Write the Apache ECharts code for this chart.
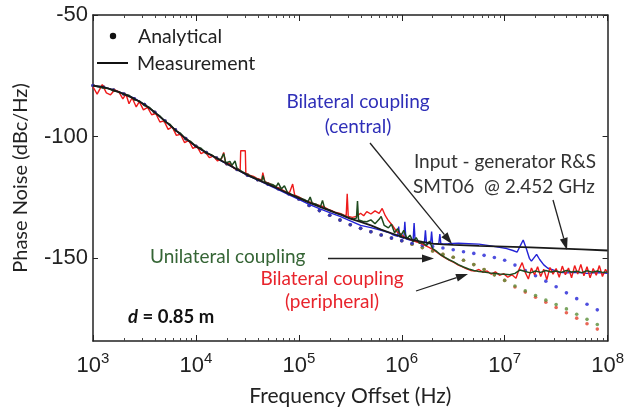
<!DOCTYPE html>
<html><head><meta charset="utf-8">
<script src="https://cdn.jsdelivr.net/npm/echarts@6/dist/echarts.min.js"></script>
<style>html,body{margin:0;padding:0;background:#fff}#c{width:627px;height:412px}</style>
</head><body><div id="c"></div>
<script>
// ---- axis ticks ----
const xTickExps = [3, 4, 5, 6, 7, 8];
const yTicks = [-150, -100, -50];

// ---- analytical (dots): log10(frequency) and phase noise ----
const dotLogF = [3.0,3.1,3.2,3.3,3.4,3.5,3.6,3.7,3.8,3.9,4.0,4.1,4.2,4.3,4.4,4.5,4.6,4.7,4.8,4.9,
  5.0,5.1,5.2,5.3,5.4,5.5,5.6,5.7,5.8,5.9,6.0,6.1,6.2,6.3,6.4,6.5,6.6,6.7,6.8,6.9,
  7.0,7.1,7.2,7.3,7.4,7.5,7.6,7.7,7.8,7.9];
const anaCentral = [-79.0,-79.6,-80.9,-82.5,-84.4,-86.8,-90.0,-93.6,-97.2,-100.8,-104.0,-106.5,-108.8,-111.1,-113.5,-115.8,-117.7,-119.5,-121.4,-123.5,
  -125.6,-128.3,-130.4,-132.3,-134.3,-136.2,-137.7,-139.1,-140.4,-141.7,-142.8,-143.8,-144.6,-145.2,-145.8,-146.5,-147.3,-148.0,-148.8,-149.7,
  -150.8,-152.8,-155.0,-157.2,-159.4,-161.7,-164.2,-166.6,-168.9,-171.2];
const anaUnilateral = [-79.0,-79.6,-80.9,-82.5,-84.4,-86.8,-90.0,-93.6,-97.2,-100.8,-104.0,-106.5,-108.8,-111.1,-113.5,-115.8,-117.7,-119.5,-121.4,-123.5,
  -125.6,-128.3,-130.4,-132.3,-134.3,-136.2,-137.7,-139.1,-140.4,-141.7,-142.8,-144.2,-145.6,-147.0,-148.4,-149.6,-150.8,-152.6,-154.6,-156.8,
  -159.1,-161.4,-163.4,-165.3,-167.2,-169.0,-170.8,-173.0,-175.1,-177.2];
const anaPeripheral = [-79.0,-79.6,-80.9,-82.5,-84.4,-86.8,-90.0,-93.6,-97.2,-100.8,-104.0,-106.5,-108.8,-111.1,-113.5,-115.8,-117.7,-119.5,-121.4,-123.5,
  -125.6,-128.3,-130.4,-132.3,-134.3,-136.2,-137.7,-139.1,-140.4,-141.7,-142.8,-144.2,-145.6,-147.0,-148.4,-149.6,-150.8,-152.6,-154.6,-156.8,
  -159.1,-161.8,-163.9,-166.0,-168.1,-170.2,-172.4,-174.6,-176.9,-179.1];

// ---- measurements: [log10(frequency), phase noise] ----
const measInput = [[3.00,-79.0],[3.10,-79.6],[3.20,-80.9],[3.30,-82.5],[3.40,-84.4],[3.50,-86.8],[3.60,-90.0],[3.70,-93.6],
  [3.80,-97.2],[3.90,-100.8],[4.00,-104.0],[4.10,-106.5],[4.20,-108.8],[4.30,-111.1],[4.40,-113.5],[4.50,-115.8],
  [4.60,-117.7],[4.70,-119.5],[4.80,-121.4],[4.90,-123.4],[5.00,-125.3],[5.10,-127.1],[5.20,-128.8],[5.30,-130.4],
  [5.40,-132.0],[5.50,-133.7],[5.60,-135.0],[5.70,-136.5],[5.80,-138.2],[5.90,-139.7],[6.00,-141.2],[6.10,-142.4],
  [6.20,-143.3],[6.30,-144.0],[6.40,-144.3],[6.50,-144.5],[6.75,-144.9],[7.00,-145.2],[7.25,-145.5],[7.50,-145.9],
  [7.75,-146.3],[8.00,-146.8]];
const measCentral = [[3.00,-79.2],[3.10,-79.6],[3.20,-80.8],[3.30,-82.3],[3.40,-84.2],[3.50,-86.8],[3.60,-90.0],[3.70,-93.6],
  [3.80,-97.3],[3.90,-100.9],[4.00,-104.0],[4.10,-106.6],[4.20,-108.9],[4.30,-111.2],[4.40,-113.6],[4.50,-115.9],
  [4.60,-117.8],[4.70,-119.8],[4.80,-121.8],[4.90,-123.8],[5.00,-125.8],[5.10,-127.8],[5.20,-129.6],[5.30,-131.2],
  [5.40,-132.8],[5.50,-134.6],[5.60,-136.5],[5.70,-137.4],[5.80,-138.5],[5.88,-139.5],[5.92,-140.5],[5.96,-141.0],
  [5.97,-137.0],[5.98,-141.2],[6.02,-141.8],[6.03,-135.0],[6.04,-142.0],[6.08,-142.5],[6.11,-142.8],[6.12,-135.5],
  [6.13,-143.0],[6.18,-143.3],[6.22,-143.6],[6.23,-138.5],[6.24,-143.8],[6.28,-144.0],[6.29,-139.0],[6.30,-144.0],
  [6.36,-144.0],[6.37,-140.0],[6.38,-144.1],[6.45,-144.0],[6.55,-143.8],[6.65,-144.0],[6.75,-144.2],[6.85,-144.8],
  [6.95,-145.5],[7.02,-146.0],[7.08,-146.8],[7.12,-147.5],[7.15,-145.0],[7.18,-142.5],[7.21,-146.0],[7.24,-150.0],
  [7.26,-151.2],[7.29,-149.5],[7.31,-148.4],[7.34,-150.5],[7.38,-152.7],[7.42,-154.1],[7.47,-154.8],[7.53,-155.8],
  [7.60,-156.0],[7.70,-155.8],[7.80,-156.2],[7.90,-155.9],[8.00,-156.2]];
const measUnilateral = [[3.00,-79.0],[3.05,-79.5],[3.10,-80.0],[3.15,-80.2],[3.20,-81.2],[3.25,-81.5],[3.30,-82.6],[3.35,-83.0],
  [3.40,-84.8],[3.45,-85.3],[3.50,-87.2],[3.55,-88.0],[3.60,-90.2],[3.65,-91.5],[3.70,-93.8],[3.75,-95.0],[3.80,-97.5],
  [3.85,-98.6],[3.90,-101.0],[3.95,-102.0],[4.00,-104.0],[4.05,-104.8],[4.10,-106.8],[4.15,-107.4],[4.20,-109.0],
  [4.24,-109.5],[4.27,-107.0],[4.29,-110.8],[4.33,-110.2],[4.35,-111.8],[4.38,-110.0],[4.40,-113.2],[4.45,-114.4],
  [4.50,-115.5],[4.55,-116.6],[4.60,-117.5],[4.64,-118.2],[4.65,-116.0],[4.67,-118.6],[4.71,-119.3],[4.75,-119.8],
  [4.78,-120.6],[4.80,-119.0],[4.83,-121.5],[4.86,-120.2],[4.89,-123.0],[4.93,-123.8],[4.97,-124.5],[5.01,-125.2],
  [5.05,-125.8],[5.09,-126.7],[5.11,-124.8],[5.13,-127.4],[5.17,-127.8],[5.21,-128.8],[5.23,-126.2],[5.25,-129.4],
  [5.29,-130.0],[5.33,-130.8],[5.37,-131.5],[5.41,-131.9],[5.45,-132.7],[5.49,-133.4],[5.53,-133.8],[5.56,-133.5],
  [5.57,-126.5],[5.58,-134.3],[5.62,-134.8],[5.66,-135.0],[5.70,-134.2],[5.74,-135.8],[5.78,-134.0],[5.80,-132.8],
  [5.83,-136.5],[5.87,-137.5],[5.90,-136.0],[5.93,-139.5],[5.96,-137.8],[5.99,-140.8],[6.02,-138.5],[6.05,-142.0],
  [6.08,-140.5],[6.11,-143.2],[6.14,-141.5],[6.17,-143.8],[6.20,-143.5],[6.24,-144.8],[6.27,-143.0],[6.30,-146.0],
  [6.34,-147.2],[6.38,-148.6],[6.42,-149.6],[6.46,-150.6],[6.50,-151.4],[6.55,-152.6],[6.60,-153.6],[6.65,-154.4],
  [6.70,-155.0],[6.75,-155.4],[6.80,-155.6],[6.85,-156.0],[6.90,-156.2],[6.95,-156.5],[7.00,-156.6],[7.05,-156.8],
  [7.10,-156.2],[7.15,-154.8],[7.20,-155.4],[7.25,-156.0],[7.30,-155.2],[7.35,-155.8],[7.40,-155.0],[7.45,-155.6],
  [7.50,-155.2],[7.55,-155.8],[7.60,-155.0],[7.65,-155.6],[7.70,-155.3],[7.75,-155.9],[7.80,-155.1],[7.85,-155.7],
  [7.90,-155.2],[7.95,-155.8],[8.00,-155.6]];
const measPeripheral = [[3.00,-79.5],[3.04,-82.5],[3.09,-78.6],[3.13,-82.0],[3.17,-82.8],[3.21,-80.8],[3.25,-81.5],[3.29,-84.5],
  [3.32,-82.5],[3.35,-86.5],[3.38,-84.0],[3.42,-87.8],[3.45,-85.6],[3.49,-89.0],[3.53,-88.0],[3.57,-91.0],[3.61,-90.5],
  [3.65,-94.0],[3.69,-93.5],[3.73,-97.0],[3.77,-96.0],[3.81,-99.5],[3.85,-99.0],[3.89,-102.5],[3.93,-101.5],[3.97,-104.8],
  [4.01,-104.0],[4.05,-107.0],[4.09,-106.2],[4.13,-108.6],[4.17,-108.0],[4.21,-110.0],[4.25,-109.0],[4.27,-106.5],
  [4.29,-111.2],[4.33,-111.0],[4.37,-113.0],[4.41,-113.5],[4.43,-113.8],[4.435,-105.8],[4.48,-105.8],[4.485,-115.0],
  [4.52,-115.8],[4.56,-116.3],[4.60,-117.3],[4.64,-117.8],[4.65,-114.8],[4.67,-118.5],[4.71,-119.2],[4.75,-120.0],
  [4.79,-120.9],[4.83,-121.7],[4.87,-122.6],[4.91,-123.0],[4.94,-119.5],[4.96,-124.0],[5.00,-124.8],[5.04,-125.8],
  [5.08,-126.5],[5.12,-127.0],[5.16,-127.8],[5.20,-128.3],[5.24,-128.8],[5.28,-129.8],[5.32,-130.4],[5.36,-131.2],
  [5.40,-131.6],[5.44,-132.3],[5.46,-132.5],[5.47,-123.5],[5.48,-132.8],[5.52,-133.2],[5.56,-132.8],[5.60,-131.5],
  [5.63,-132.5],[5.66,-130.8],[5.70,-131.8],[5.74,-130.5],[5.78,-131.5],[5.81,-129.5],[5.84,-132.5],[5.87,-134.5],
  [5.91,-136.5],[5.95,-139.0],[5.99,-140.0],[6.03,-141.5],[6.07,-142.0],[6.11,-142.8],[6.15,-143.3],[6.19,-144.0],
  [6.23,-144.8],[6.27,-145.6],[6.31,-146.6],[6.35,-147.8],[6.39,-149.0],[6.43,-150.0],[6.47,-151.0],[6.51,-151.8],
  [6.55,-152.8],[6.59,-153.5],[6.63,-154.3],[6.67,-155.0],[6.71,-155.3],[6.75,-154.6],[6.79,-155.8],[6.83,-155.2],
  [6.87,-156.5],[6.91,-155.6],[6.95,-157.0],[6.99,-156.3],[7.03,-157.8],[7.07,-156.8],[7.11,-158.2],[7.14,-154.5],
  [7.17,-151.8],[7.20,-155.8],[7.23,-158.5],[7.26,-154.0],[7.29,-156.8],[7.32,-153.5],[7.35,-157.5],[7.38,-154.5],
  [7.41,-158.8],[7.44,-153.8],[7.47,-156.5],[7.50,-154.2],[7.53,-157.8],[7.56,-153.2],[7.59,-156.8],[7.62,-154.0],
  [7.65,-158.0],[7.68,-153.0],[7.71,-156.5],[7.74,-152.5],[7.77,-157.2],[7.80,-153.5],[7.83,-158.0],[7.86,-154.2],
  [7.89,-157.0],[7.92,-153.0],[7.95,-157.5],[7.98,-154.5],[8.00,-156.0]];

// ---- build ----
const hz = L => Math.pow(10, L);
const dots = vals => dotLogF.map((L, i) => [hz(L), vals[i]]);
const pts = arr => arr.map(p => [hz(p[0]), p[1]]);
const majorX = xTickExps.map(hz);
const minorX = [];
xTickExps.slice(0, -1).forEach(e => { for (let k = 2; k <= 9; k++) minorX.push(k * hz(e)); });

const C = {
  blue: '#2323d6', red: '#ee1b1b', green: '#1e4a1e',
  greenDot: '#5a8f3a', redDot: '#e2402c', black: '#1a1a1a'
};
const TXT = 'Lato, "Open Sans", sans-serif';
const NUM = '"Liberation Sans", Arial, sans-serif';

const chart = echarts.init(document.getElementById('c'), null, { renderer: 'canvas' });

const baseX = {
  type: 'log', logBase: 10, min: 1e3, max: 1e8, gridIndex: 0,
  splitLine: { show: false }, minorTick: { show: false }, minorSplitLine: { show: false }
};
const option = {
  animation: false,
  backgroundColor: '#fff',
  grid: { left: 93, right: 18, top: 15, bottom: 69, containLabel: false },
  xAxis: [
    Object.assign({}, baseX, {
      position: 'bottom',
      name: 'Frequency Offset (Hz)', nameLocation: 'middle', nameGap: 45,
      nameTextStyle: { fontFamily: TXT, fontSize: 21, color: '#222' },
      axisLine: { show: true, lineStyle: { color: '#222', width: 1.5 } },
      axisTick: { show: true, inside: true, length: 6, customValues: majorX, lineStyle: { color: '#222', width: 1 } },
      axisLabel: {
        show: true, customValues: majorX, margin: 10,
        formatter: v => '{b|10}{s|' + Math.round(Math.log10(v)) + '}',
        rich: {
          b: { fontFamily: NUM, fontSize: 22, color: '#222', verticalAlign: 'bottom', lineHeight: 26 },
          s: { fontFamily: NUM, fontSize: 15, color: '#222', verticalAlign: 'top', lineHeight: 26, padding: [0, 0, 10, 0] }
        }
      }
    }),
    Object.assign({}, baseX, {
      position: 'bottom',
      axisLine: { show: false }, axisLabel: { show: false },
      axisTick: { show: true, inside: true, length: 3, customValues: minorX, lineStyle: { color: '#444', width: 1 } }
    }),
    Object.assign({}, baseX, {
      position: 'top',
      axisLine: { show: true, lineStyle: { color: '#222', width: 1.5 } }, axisLabel: { show: false },
      axisTick: { show: true, inside: true, length: 6, customValues: majorX, lineStyle: { color: '#222', width: 1 } }
    }),
    Object.assign({}, baseX, {
      position: 'top',
      axisLine: { show: false }, axisLabel: { show: false },
      axisTick: { show: true, inside: true, length: 3, customValues: minorX, lineStyle: { color: '#444', width: 1 } }
    })
  ],
  yAxis: [
    {
      type: 'value', min: -184, max: -50, position: 'left',
      name: 'Phase Noise (dBc/Hz)', nameLocation: 'middle', nameGap: 62,
      nameTextStyle: { fontFamily: TXT, fontSize: 20, color: '#222' },
      splitLine: { show: false },
      axisLine: { show: true, lineStyle: { color: '#222', width: 1.5 } },
      axisTick: { show: true, inside: true, length: 5, customValues: yTicks, lineStyle: { color: '#222' } },
      axisLabel: { show: true, customValues: yTicks, margin: 5, fontFamily: NUM, fontSize: 22, color: '#222' }
    },
    {
      type: 'value', min: -184, max: -50, position: 'right',
      splitLine: { show: false },
      axisLine: { show: true, lineStyle: { color: '#222', width: 1.5 } },
      axisTick: { show: true, inside: true, length: 5, customValues: yTicks, lineStyle: { color: '#222' } },
      axisLabel: { show: false }
    }
  ],
  series: [
    { name: 'Analytical peripheral', type: 'scatter', data: dots(anaPeripheral), symbolSize: 3.6, itemStyle: { color: C.redDot }, z: 1 },
    { name: 'Analytical unilateral', type: 'scatter', data: dots(anaUnilateral), symbolSize: 3.6, itemStyle: { color: C.greenDot }, z: 1 },
    { name: 'Analytical central', type: 'scatter', data: dots(anaCentral), symbolSize: 3.6, itemStyle: { color: C.blue }, z: 1 },
    { name: 'Central', type: 'line', data: pts(measCentral), showSymbol: false, symbol: 'none', lineStyle: { color: C.blue, width: 1.4 }, z: 2 },
    { name: 'Peripheral', type: 'line', data: pts(measPeripheral), showSymbol: false, symbol: 'none', lineStyle: { color: C.red, width: 1.4 }, z: 2 },
    { name: 'Unilateral', type: 'line', data: pts(measUnilateral), showSymbol: false, symbol: 'none', lineStyle: { color: C.green, width: 1.5 }, z: 2 },
    { name: 'Input generator', type: 'line', data: pts(measInput), showSymbol: false, symbol: 'none', lineStyle: { color: C.black, width: 1.8 }, z: 2 }
  ]
};

// annotation helpers (pixel layout)
function arrow(x1, y1, x2, y2) {
  const dx = x2 - x1, dy = y2 - y1, len = Math.hypot(dx, dy);
  const ux = dx / len, uy = dy / len, hl = 12, hw = 4;
  const bx = x2 - ux * hl, by = y2 - uy * hl;
  return [
    { type: 'line', shape: { x1, y1, x2: bx, y2: by }, style: { stroke: '#222', lineWidth: 1.3 }, z: 10 },
    { type: 'polygon', shape: { points: [[x2, y2], [bx - uy * hw, by + ux * hw], [bx + uy * hw, by - ux * hw]] }, style: { fill: '#222' }, z: 10 }
  ];
}
function label(text, x, y, color, align, size) {
  return { type: 'text', x, y, z: 10, style: { text, fill: color, font: (size || 19) + 'px ' + TXT, textAlign: align || 'center', textVerticalAlign: 'middle' } };
}
option.graphic = [
  { type: 'circle', shape: { cx: 113, cy: 36, r: 3.2 }, style: { fill: '#111' }, z: 10 },
  label('Analytical', 138, 36.5, '#222', 'left', 19.5),
  { type: 'line', shape: { x1: 97, y1: 63, x2: 128, y2: 63 }, style: { stroke: '#111', lineWidth: 2 }, z: 10 },
  label('Measurement', 137, 63.5, '#222', 'left', 19.5),
  label('Bilateral coupling', 358, 102, '#2f2fb8'),
  label('(central)', 358, 127, '#2f2fb8'),
  label('Input - generator R&S', 505, 162, '#333'),
  label('SMT06  @ 2.452 GHz', 504, 187, '#333'),
  label('Unilateral coupling', 150, 257, '#356535', 'left'),
  label('Bilateral coupling', 332, 279, '#e8242c'),
  label('(peripheral)', 332, 302, '#e8242c'),
  { type: 'text', x: 128, y: 317, z: 10, style: {
      text: '{i|d}{b| = 0.85 m}', textVerticalAlign: 'middle',
      rich: { i: { font: 'italic bold 18.5px ' + TXT, fill: '#111' }, b: { font: 'bold 18.5px ' + TXT, fill: '#111' } } } }
].concat(arrow(370, 143, 452, 244), arrow(553, 200, 567, 250), arrow(328, 258.5, 434, 258.5), arrow(416, 291, 468, 274));

chart.setOption(option);
</script>
</body></html>
